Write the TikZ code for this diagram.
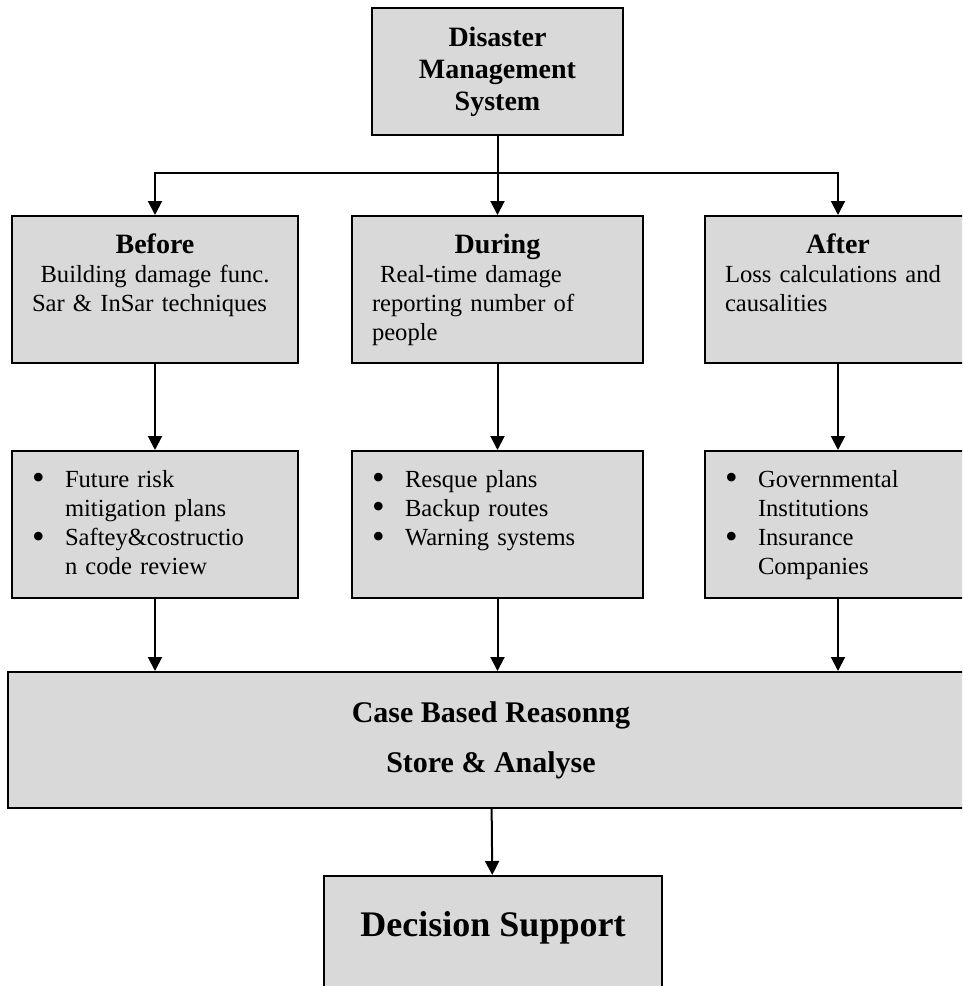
\documentclass[tikz,border=0pt]{standalone}
\usepackage{fontspec}
\setmainfont{Liberation Serif}
\usepackage{tikz}
\usetikzlibrary{arrows.meta}
\usetikzlibrary{calc}
\usetikzlibrary{positioning}

\definecolor{boxgray}{RGB}{217,217,217}
\newcommand{\txt}{\fontsize{24.6}{29.3}\selectfont}
\newcommand{\hd}[1]{{\fontsize{28}{29.3}\selectfont\bfseries #1}}
\newcommand{\bul}{\smash{\raisebox{-2.5pt}{\fontsize{36}{36}\selectfont\textbullet}}}
\newcommand{\blist}[1]{\begin{tabular}[t]{@{}p{33pt}@{}l@{}}#1\end{tabular}}

\begin{document}
\begin{tikzpicture}[x=1pt,y=1pt,line width=2pt,>={Triangle[length=14pt,width=14pt]}]
  \tikzstyle{blok}=[draw,fill=boxgray,inner sep=0pt,font=\txt]
  \tikzstyle{stage}=[blok,inner xsep=20pt,text height=37pt,text depth=110pt]
  \tikzstyle{plans}=[blok,inner xsep=20pt,text height=36pt,text depth=111pt]
  \useasboundingbox (0,0) rectangle (962,-986);
  \clip (0,0) rectangle (962,-986);

  % top
  \node[blok,align=center,minimum width=251pt,minimum height=127pt,
        font=\fontsize{28}{32}\selectfont\bfseries] (dms) at (497.5,-71.5)
        {Disaster\\Management\\System};

  % phases
  \node[stage,text width=251pt,below=79pt of dms] (during)
        {{\centering\hd{During}\par}\raggedright\ Real-time damage\\reporting number of\\people};
  \node[stage,text width=246pt,left=52pt of during] (before)
        {\centering\hd{Before}\\Building damage func.\\Sar \& InSar techniques};
  \node[stage,text width=226pt,right=60pt of during] (after)
        {{\centering\hd{After}\par}\raggedright Loss calculations and\\causalities};

  % actions
  \node[plans,text width=246pt,below=86pt of before] (beforelist)
        {\blist{\bul & Future risk\\ & mitigation plans\\ \bul & Saftey\&costructio\\ & n code review}};
  \node[plans,text width=251pt,below=86pt of during] (duringlist)
        {\blist{\bul & Resque plans\\ \bul & Backup routes\\ \bul & Warning systems}};
  \node[plans,text width=226pt,below=86pt of after] (afterlist)
        {\blist{\bul & Governmental\\ & Institutions\\ \bul & Insurance\\ & Companies}};

  % bottom
  \node[blok,align=center,minimum width=966pt,minimum height=136pt,
        font=\fontsize{30}{50}\selectfont\bfseries] (cbr) at (491,-740)
        {Case Based Reasonng\\Store \& Analyse};
  \node[blok,minimum width=338pt,text height=60pt,text depth=100pt,
        font=\fontsize{36}{42}\selectfont\bfseries,below=66pt of cbr,xshift=2pt] (dec)
        {Decision Support};

  \coordinate (split) at ($(dms.south)+(0,-37)$);
  \draw (dms) -- (split);
  \path[->]
    (split) edge[to path={-| (\tikztotarget)}] (before)
    (split) edge (during)
    (split) edge[to path={-| (\tikztotarget)}] (after)
    (before) edge (beforelist)
    (during) edge (duringlist)
    (after) edge (afterlist)
    (beforelist) edge (beforelist |- cbr.north)
    (duringlist) edge (duringlist |- cbr.north)
    (afterlist) edge (afterlist |- cbr.north)
    (cbr) edge (dec);
\end{tikzpicture}
\end{document}
